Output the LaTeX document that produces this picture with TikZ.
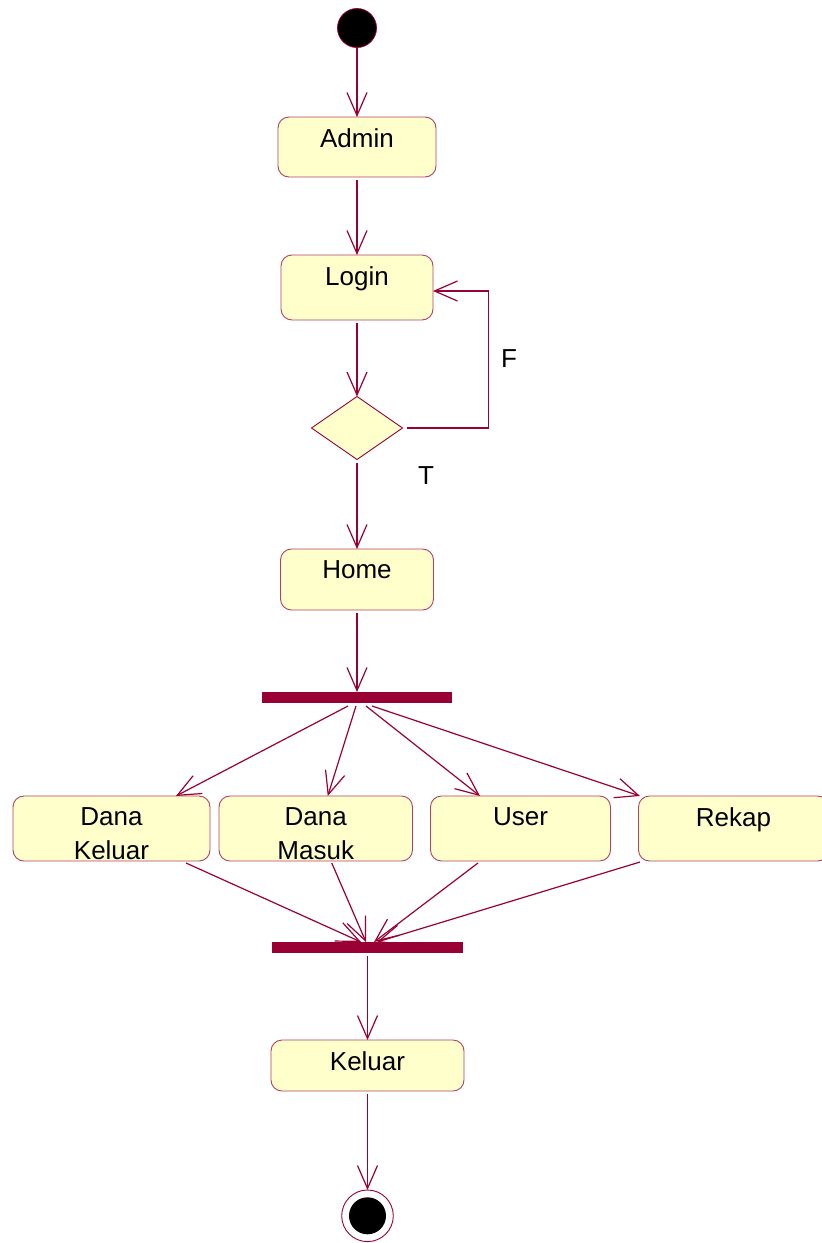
\documentclass[tikz,border=0pt]{standalone}
\usepackage{fontspec}
\setmainfont{Liberation Sans}
\usepackage{xcolor}
\usepackage{tikz}
\usetikzlibrary{arrows.meta,shapes.geometric,positioning}
\definecolor{adline}{RGB}{153,0,51}
\definecolor{adfill}{RGB}{255,255,204}
\newcommand\adfont{\fontsize{26}{34}\selectfont}
\tikzset{
  ad action/.style={
    rectangle,
    rounded corners=11pt,
    draw=adline!75,
    fill=adfill,
    line width=0.9pt,
    inner sep=0pt,
    outer sep=0pt,
  },
  ad text/.style={
    anchor=north,
    yshift=-11pt,
    inner sep=0pt,
    align=center,
    font=\adfont,
  },
  ad decision/.style={
    diamond,
    draw=adline,
    fill=adfill,
    line width=0.9pt,
    minimum width=91pt,
    minimum height=63pt,
    inner sep=0pt,
    outer sep=0pt,
  },
  ad start/.style={circle, draw=adline, fill=black, line width=0.8pt, minimum size=39pt, inner sep=0pt, outer sep=0pt},
  ad end/.style={
    circle,
    draw=adline,
    fill=white,
    line width=0.9pt,
    minimum size=51.6pt,
    inner sep=0pt,
    outer sep=0pt,
    path picture={\fill[black] (path picture bounding box.center) circle (18.5pt);},
  },
  ad bar/.style={rectangle, fill=adline, minimum width=190pt, minimum height=11pt, inner sep=0pt, outer sep=0pt},
  ad guard/.style={inner sep=0pt, font=\adfont},
  ad arrow/.style={-{Straight Barb[length=23pt,width=20pt]}, draw=adline, line width=1.2pt},
}

\begin{document}
\begin{tikzpicture}[x=1pt,y=1pt]
  \useasboundingbox (0,0) rectangle (822,-1243);
  \clip (0,0) rectangle (822,-1243);

  \node[ad start] (start) at (357,-28) {};
  \node[ad action,minimum width=158pt,minimum height=60pt,below=69.5pt of start,
    label={[ad text]north:Admin}] (admin) {};
  \node[ad action,minimum width=152pt,minimum height=65pt,below=78pt of admin,
    label={[ad text]north:Login}] (login) {};
  \node[ad decision,below=76.5pt of login] (dec) {};
  \node[ad action,minimum width=153pt,minimum height=61pt,below=89.5pt of dec,
    label={[ad text]north:Home}] (home) {};
  \node[ad bar,below=82pt of home] (fork) {};

  \node[ad action,minimum width=197pt,minimum height=65pt,below=93pt of fork,xshift=-245.5pt,
    label={[ad text]north:Dana\\Keluar}] (dk) {};
  \node[ad action,minimum width=193.5pt,minimum height=65pt,right=9pt of dk,
    label={[ad text]north:Dana\\Masuk}] (dm) {};
  \node[ad action,minimum width=180pt,minimum height=65pt,right=18pt of dm,
    label={[ad text]north:User}] (user) {};
  \node[ad action,minimum width=190pt,minimum height=65pt,right=28pt of user,
    label={[ad text]north:Rekap}] (rekap) {};

  \node[ad bar,minimum width=191pt,below=239pt of fork,xshift=10.5pt] (join) {};
  \node[ad action,minimum width=193pt,minimum height=51pt,below=87pt of join,
    label={[ad text]north:Keluar}] (keluar) {};
  \node[ad end,below=99pt of keluar] (end) {};

  \node[ad guard] (fguard) at (509,-358.5) {F};
  \node[ad guard] (tguard) at (426,-476) {T};

  \draw[ad arrow] (start) -- (admin);
  \draw[ad arrow,shorten <=3pt] (admin) -- (login);
  \draw[ad arrow,shorten <=3pt] (login) -- (dec);
  \draw[ad arrow,shorten <=3pt] (dec) -- (home);
  \draw[ad arrow,shorten <=3pt] (home) -- (fork);
  \draw[ad arrow,shorten <=4pt] (dec.east) -- ++(86,0) |- ([yshift=-3.5pt]login.east);

  \draw[ad arrow] ([xshift=-9pt,yshift=-3pt]fork.south) -- ([xshift=64.5pt]dk.north);
  \draw[ad arrow] ([xshift=-1pt,yshift=-3pt]fork.south) -- ([xshift=12pt]dm.north);
  \draw[ad arrow] ([xshift=9pt,yshift=-3pt]fork.south) -- ([xshift=-40.5pt]user.north);
  \draw[ad arrow] ([xshift=15pt,yshift=-3pt]fork.south) -- ([xshift=1.5pt]rekap.north west);

  \draw[ad arrow] ([xshift=74.5pt,yshift=-2pt]dk.south) -- ([xshift=-6.5pt]join.north);
  \draw[ad arrow] ([xshift=16pt,yshift=-2pt]dm.south) -- ([xshift=-1.5pt]join.north);
  \draw[ad arrow] ([xshift=-42.5pt,yshift=-2pt]user.south) -- ([xshift=6.5pt]join.north);
  \draw[ad arrow] ([xshift=1.5pt,yshift=-1pt]rekap.south west) -- ([xshift=9.5pt]join.north);

  \draw[ad arrow,shorten <=3pt] (join) -- (keluar);
  \draw[ad arrow,shorten <=3pt] (keluar) -- (end);
\end{tikzpicture}
\end{document}
